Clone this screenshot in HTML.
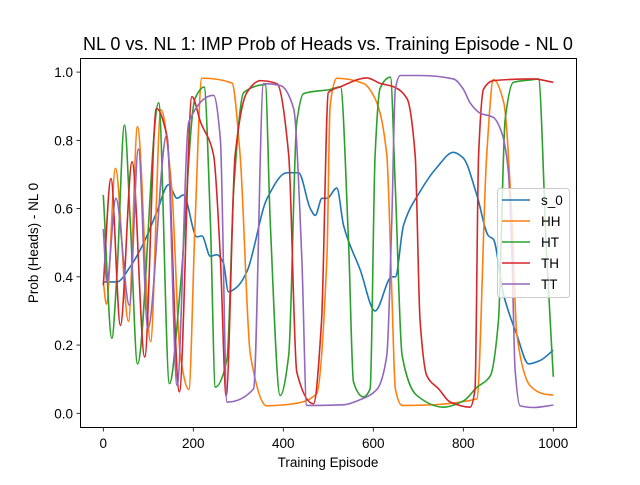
<!DOCTYPE html>
<html><head><meta charset="utf-8"><style>
html,body{margin:0;padding:0;background:#fff;}
svg text{font-family:"Liberation Sans","DejaVu Sans",sans-serif;fill:#000;}
</style></head><body>
<svg id="chart" width="640" height="480" viewBox="0 0 640 480" xmlns="http://www.w3.org/2000/svg">
<rect x="0" y="0" width="640" height="480" fill="#fff"/>
<text x="328" y="50" font-size="18" text-anchor="middle">NL 0 vs. NL 1: IMP Prob of Heads vs. Training Episode - NL 0</text>
<g id="series"></g>
<g id="axes"></g>
<rect x="80.5" y="58.5" width="496" height="369" fill="none" stroke="#000" stroke-width="1"/>
<text x="328" y="467" font-size="13.5" text-anchor="middle">Training Episode</text>
<text transform="translate(38,243) rotate(-90)" font-size="13.5" text-anchor="middle">Prob (Heads) - NL 0</text>
<g id="legend"></g>
</svg>
<script>
const xTicks = [0, 200, 400, 600, 800, 1000];
const yTicks = [0.0, 0.2, 0.4, 0.6, 0.8, 1.0];
const seriesNames = ["s_0", "HH", "HT", "TH", "TT"];
const seriesColors = ["#1f77b4", "#ff7f0e", "#2ca02c", "#d62728", "#9467bd"];
const s0Ep = [0,30,60,90,119,145,164,178,208,219,238,252,267,278,297,319,364,408,434,460,471,486,497,519,534,571,604,641,649,667,704,741,778,800,830,856,867,889,919,945,971,1000];
const s0Val = [0.385,0.385,0.43,0.5,0.59,0.67,0.63,0.64,0.517,0.52,0.46,0.465,0.44,0.356,0.37,0.415,0.63,0.705,0.705,0.6,0.58,0.63,0.63,0.66,0.55,0.42,0.3,0.4,0.4,0.55,0.65,0.72,0.765,0.748,0.64,0.52,0.51,0.35,0.23,0.145,0.155,0.185];
const hhEp = [0,7,27,56,76,105,128,152,171,190,204,219,286,304,327,363,423,474,497,504,519,578,604,630,641,649,664,830,852,867,890,908,919,949,978,1000];
const hhVal = [0.385,0.32,0.718,0.27,0.84,0.21,0.89,0.66,0.17,0.07,0.56,0.982,0.968,0.757,0.17,0.022,0.028,0.057,0.46,0.9,0.982,0.967,0.922,0.757,0.36,0.072,0.023,0.042,0.757,0.978,0.91,0.57,0.23,0.08,0.057,0.053];
const htEp = [0,19,30,47,60,76,123,147,171,204,224,238,249,275,290,312,360,371,393,412,430,445,504,527,545,556,578,593,604,615,638,649,664,697,756,801,830,860,878,893,911,956,967,985,1000];
const htVal = [0.64,0.22,0.4,0.845,0.56,0.145,0.91,0.087,0.365,0.923,0.956,0.56,0.077,0.16,0.66,0.94,0.963,0.56,0.052,0.17,0.854,0.937,0.949,0.957,0.5,0.092,0.048,0.072,0.757,0.952,0.985,0.66,0.17,0.052,0.018,0.037,0.076,0.11,0.27,0.86,0.97,0.978,0.98,0.47,0.107];
const thEp = [0,17,38,64,92,118,141,169,197,216,245,260,273,293,319,349,386,412,430,467,485,500,527,586,615,645,675,693,704,719,745,771,815,826,834,845,867,956,1000];
const thVal = [0.375,0.688,0.258,0.737,0.165,0.893,0.815,0.063,0.928,0.854,0.757,0.46,0.052,0.757,0.94,0.975,0.966,0.757,0.121,0.028,0.27,0.94,0.957,0.983,0.967,0.957,0.922,0.757,0.27,0.11,0.072,0.033,0.018,0.07,0.757,0.95,0.975,0.98,0.97];
const ttEp = [0,8,28,58,78,99,141,164,190,245,260,275,334,356,393,423,441,452,534,571,608,630,641,649,660,704,778,800,815,837,867,886,900,908,915,926,956,1000];
const ttVal = [0.54,0.385,0.63,0.317,0.775,0.248,0.815,0.082,0.854,0.932,0.806,0.033,0.072,0.966,0.961,0.893,0.46,0.023,0.025,0.04,0.07,0.17,0.56,0.95,0.99,0.99,0.98,0.95,0.91,0.88,0.867,0.82,0.71,0.47,0.13,0.022,0.017,0.024];
const seriesEp = [s0Ep, hhEp, htEp, thEp, ttEp];
const seriesVal = [s0Val, hhVal, htVal, thVal, ttVal];

const NS = "http://www.w3.org/2000/svg";
function xScale(e){ return 103.3 + (e/1000)*450; }
function yScale(v){ return 413.3 - v*341.2; }
function mk(tag, attrs, parent){ const el=document.createElementNS(NS,tag); for(const k in attrs) el.setAttribute(k,attrs[k]); parent.appendChild(el); return el; }

function monotonePath(xs, ys){
  const n=xs.length; const d=[], m=[];
  for(let i=0;i<n-1;i++) d.push((ys[i+1]-ys[i])/(xs[i+1]-xs[i]));
  m.push(d[0]);
  for(let i=1;i<n-1;i++){ if(d[i-1]*d[i]<=0) m.push(0); else { const h0=xs[i]-xs[i-1], h1=xs[i+1]-xs[i]; const w1=2*h1+h0, w2=h1+2*h0; m.push((w1+w2)/(w1/d[i-1]+w2/d[i])); } }
  m.push(d[n-2]);
  let p="M"+xs[0].toFixed(2)+","+ys[0].toFixed(2);
  for(let i=0;i<n-1;i++){ const h=(xs[i+1]-xs[i])/3;
    p+=" C"+(xs[i]+h).toFixed(2)+","+(ys[i]+m[i]*h).toFixed(2)+" "+(xs[i+1]-h).toFixed(2)+","+(ys[i+1]-m[i+1]*h).toFixed(2)+" "+xs[i+1].toFixed(2)+","+ys[i+1].toFixed(2); }
  return p;
}

const axes=document.getElementById('axes');
xTicks.forEach(t=>{
  const x=xScale(t);
  const l=mk('line',{x1:x,x2:x,y1:427.5,y2:431.5,stroke:'#000','stroke-width':0.8},axes);
  
  
  const tx=mk('text',{x:x,y:448,'font-size':13.5,'text-anchor':'middle'},axes);
  tx.textContent=String(t);
  
  
});
yTicks.forEach(t=>{
  const y=yScale(t);
  const l=mk('line',{x1:76.5,x2:80.5,y1:y,y2:y,stroke:'#000','stroke-width':0.8},axes);
  
  
  const tx=mk('text',{x:73,y:y+5,'font-size':13.5,'text-anchor':'end'},axes);
  tx.textContent=t.toFixed(1);
  
  
});

const sg=document.getElementById('series');
seriesNames.forEach((nm,i)=>{
  const xs=seriesEp[i].map(xScale), ys=seriesVal[i].map(yScale);
  const p=mk('path',{d:monotonePath(xs,ys),fill:'none',stroke:seriesColors[i],'stroke-width':1.6,'stroke-linejoin':'round'},sg);
  
  
});

const lg=document.getElementById('legend');
const box=mk('rect',{x:497.5,y:188.5,width:72,height:109,rx:3,fill:'#fff','fill-opacity':0.8,stroke:'#ccc','stroke-width':1},lg);


seriesNames.forEach((nm,i)=>{
  const y=200+i*21;
  const l=mk('line',{x1:502,x2:530,y1:y,y2:y,stroke:seriesColors[i],'stroke-width':1.6},lg);
  
  
  const t=mk('text',{x:541,y:y+5,'font-size':13.5},lg);
  t.textContent=nm;
  
  
});
</script>
</body></html>
